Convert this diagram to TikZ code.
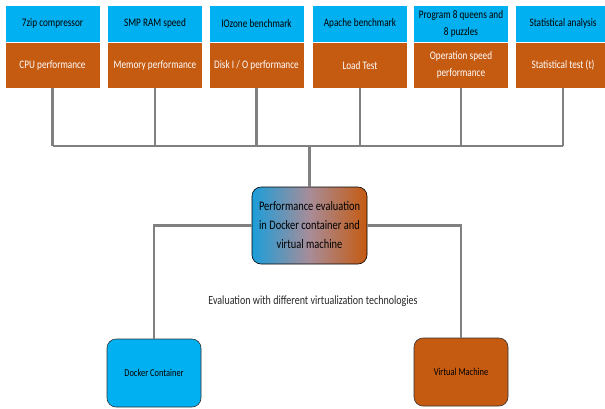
\documentclass[tikz,border=0pt]{standalone}
\usepackage{fontspec}
\setmainfont{Carlito}[FakeStretch=0.8]
\definecolor{cblue}{RGB}{0,176,240}
\definecolor{corange}{RGB}{197,90,17}
\definecolor{cline}{RGB}{128,128,128}
\definecolor{gblue}{RGB}{28,158,218}
\definecolor{gmid}{RGB}{168,140,152}
\definecolor{evtext}{RGB}{40,40,40}
\newcommand{\myfont}[2]{\fontsize{#1}{#2}\selectfont\spaceskip=0.19em plus 0.1em minus 0.05em\relax}
\begin{document}
\begin{tikzpicture}[x=1pt,y=-1pt,
  topbox/.style={draw=white, line width=0.4pt, fill=cblue, minimum width=95pt,
    minimum height=37.5pt, align=center, inner sep=0.5pt,
    font=\myfont{11.5}{17}, text=black},
  botbox/.style={topbox, fill=corange, minimum height=45.5pt, text=white},
  conn/.style={draw=cline, line width=2.6pt},
  centerbox/.style={draw=black, line width=0.6pt, rounded corners=9pt,
    minimum width=115pt, minimum height=77pt, align=center,
    inner sep=1pt, left color=gblue, right color=corange, middle color=gmid,
    font=\myfont{13}{19}, text=black},
  endbox/.style={draw=black!80, line width=0.6pt, rounded corners=9pt,
    minimum width=94pt, minimum height=68pt, align=center,
    font=\myfont{10.5}{13}, text=black}]
\clip (0,0) rectangle (605,408);
\fill[white] (0,0) rectangle (605,408);

% top boxes
\node[topbox] (t1) at (52.5,23.75) {7zip compressor};
\node[botbox] (b1) at (52.5,65.25) {CPU performance};
\node[topbox] (t2) at (155,23.75) {SMP RAM speed};
\node[botbox] (b2) at (155,65.25) {Memory performance};
\node[topbox] (t3) at (256.5,23.75) {IOzone benchmark};
\node[botbox] (b3) at (256.5,65.25) {Disk I / O performance};
\node[topbox] (t4) at (360,23.75) {Apache benchmark};
\node[botbox] (b4) at (360,65.25) {Load Test};
\node[topbox] (t5) at (461,23.75) {Program 8 queens and\\8 puzzles};
\node[botbox] (b5) at (461,65.25) {Operation speed\\performance};
\node[topbox] (t6) at (563,23.75) {Statistical analysis};
\node[botbox] (b6) at (563,65.25) {Statistical test (t)};

% bar coordinates
\coordinate (h1) at (52.5,146);
\coordinate (h2) at (155,146);
\coordinate (h3) at (256.5,146);
\coordinate (h4) at (360,146);
\coordinate (h5) at (461,146);
\coordinate (h6) at (563,146);
\coordinate (hc) at (309.5,146);

% center and end boxes
\node[centerbox] (c) at (309.5,225.5) {Performance evaluation\\in Docker container and\\virtual machine};
\node[endbox, fill=cblue] (dk) at (154,373) {Docker Container};
\node[endbox, fill=corange] (vm) at (461,372) {Virtual Machine};
\node[font=\myfont{12.5}{15}, text=evtext] (ev) at (313,301) {Evaluation with different virtualization technologies};

% connectors
\draw[conn] (b1.south) -- (h1);
\draw[conn] (b2.south) -- (h2);
\draw[conn] (b3.south) -- (h3);
\draw[conn] (b4.south) -- (h4);
\draw[conn] (b5.south) -- (h5);
\draw[conn] (b6.south) -- (h6);
\draw[conn] (h1) -- (h6);
\draw[conn] (hc) -- (c.north);
\draw[conn] (c.west) -| (dk.north);
\draw[conn] (c.east) -| (vm.north);
\end{tikzpicture}
\end{document}
